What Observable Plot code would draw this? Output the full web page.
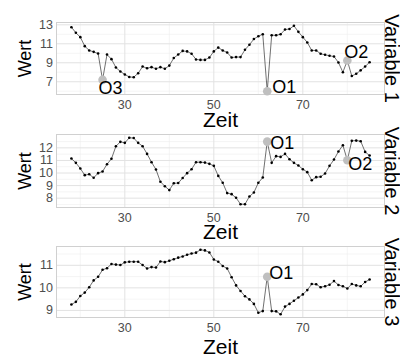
<!DOCTYPE html>
<html><head><meta charset="utf-8">
<script src="https://cdn.jsdelivr.net/npm/d3@7"></script>
<script src="https://cdn.jsdelivr.net/npm/@observablehq/plot@0.6"></script>
<style>
body{margin:0;background:#fff;}
#chart{position:relative;width:400px;height:354px;overflow:hidden;font-family:"Liberation Sans",Arial,sans-serif;background:#fff;}
#chart svg{position:absolute;left:0;overflow:visible;}
</style></head><body><div id="chart"></div>
<script>
const zeit = [18,19,20,21,22,23,24,25,26,27,28,29,30,31,32,33,34,35,36,37,38,39,40,41,42,43,44,45,46,47,48,49,50,51,52,53,54,55,56,57,58,59,60,61,62,63,64,65,66,67,68,69,70,71,72,73,74,75,76,77,78,79,80,81,82,83,84,85];
const variable1 = [12.75,12.16,11.7,10.75,10.3,10.15,9.97,7.2,9.87,9.38,8.5,8.08,7.77,7.5,7.48,7.9,8.6,8.43,8.54,8.37,8.54,8.37,8.7,9.5,9.87,10.25,10.2,9.95,9.35,9.3,9.3,9.55,10.2,10.6,10.3,10.08,9.55,9.6,9.6,10.37,10.9,11.5,11.8,12.0,6.0,11.9,11.9,12.0,12.5,12.56,12.9,12.26,11.7,11.14,10.3,10.3,9.95,9.84,9.74,9.66,9.03,8.0,9.24,7.6,7.84,8.2,8.6,9.06];
const variable2 = [11.15,10.81,10.36,9.83,9.9,9.62,9.99,10.12,10.7,11.13,12.13,12.48,12.4,12.8,12.78,12.4,12.13,11.52,10.86,10.28,9.3,8.95,8.64,9.19,9.2,9.6,9.99,10.3,10.86,10.86,10.83,10.73,10.57,9.77,9.22,8.4,8.32,8.03,7.52,7.52,8.13,8.45,9.22,9.64,12.5,10.81,11.34,11.28,11.52,11.1,10.81,10.6,10.3,10.07,9.43,9.67,9.7,9.96,10.57,11.07,11.71,12.21,11.02,12.56,12.58,12.53,11.68,11.39];
const variable3 = [9.26,9.38,9.64,9.79,10.03,10.33,10.49,10.8,10.87,11.06,11.03,11.01,11.13,11.16,11.16,11.16,11.01,10.86,10.92,10.9,11.17,11.14,11.2,11.27,11.34,11.39,11.47,11.52,11.56,11.69,11.66,11.57,11.26,11.16,10.97,10.86,10.47,10.11,9.86,9.63,9.49,9.29,8.9,8.97,10.49,8.97,8.96,8.83,9.17,9.29,9.43,9.57,9.71,9.9,10.17,10.16,10.03,10.07,10.14,10.3,10.13,10.07,9.97,10.17,10.11,10.07,10.26,10.37];
const variableNames = ["Variable 1","Variable 2","Variable 3"];
const xTicks = [30,50,70];
const yTicks1 = [7,9,11,13];
const yTicks2 = [8,9,10,11,12];
const yTicks3 = [9,10,11];
const outlierLabels1 = ["O1","O2","O3"], outlierZeit1 = [62,80,25];
const outlierLabels2 = ["O1","O2"], outlierZeit2 = [62,80];
const outlierLabels3 = ["O1"], outlierZeit3 = [62];
const xTitle = "Zeit", yTitle = "Wert";

const FONT = "'Liberation Sans', Arial, sans-serif";
function expand(vals){const [a,b]=d3.extent(vals);const p=(b-a)*0.05;return [a-p,b+p];}
function minor(ticks, dom){const s=ticks[1]-ticks[0];const out=[];for(let v=ticks[0]-s/2; v<=ticks[ticks.length-1]+s; v+=s){ if(v>=dom[0]&&v<=dom[1]) out.push(v);}return out;}

// label placement styles (offsets from the outlier point)
const labelStyle = {
  "0-O1": {textAnchor:"start", lineAnchor:"bottom", dx:5, dy:2},
  "0-O2": {textAnchor:"start", lineAnchor:"bottom", dx:-3, dy:-2},
  "0-O3": {textAnchor:"start", lineAnchor:"top", dx:-4, dy:1},
  "1-O1": {textAnchor:"start", lineAnchor:"middle", dx:3, dy:2},
  "1-O2": {textAnchor:"start", lineAnchor:"top", dx:1, dy:-3},
  "2-O1": {textAnchor:"start", lineAnchor:"middle", dx:2, dy:-4}
};
const layout = [
  {top:0, height:124, mt:22, mb:30, zdy:32},
  {top:124, height:116, mt:10, mb:33, zdy:31},
  {top:240, height:114, mt:6, mb:37, zdy:36}
];
const series = [variable1, variable2, variable3];
const yTicksAll = [yTicks1, yTicks2, yTicks3];
const outL = [outlierLabels1, outlierLabels2, outlierLabels3];
const outZ = [outlierZeit1, outlierZeit2, outlierZeit3];
const xDom = expand(zeit);
const xMinor = minor(xTicks, xDom);
const chart = document.getElementById("chart");

series.forEach((vals, i) => {
  const data = zeit.map((z, k) => ({zeit: z, wert: vals[k]}));
  const outliers = outL[i].map((lab, k) => ({label: lab, zeit: outZ[i][k], wert: vals[zeit.indexOf(outZ[i][k])]}));
  const yDom = expand(vals);
  const yT = yTicksAll[i];
  const L = layout[i];
  const labelMarks = outliers.map(o => Plot.text([o], {x:"zeit", y:"wert", text:"label", fontSize:18, fill:"#000", fontFamily:FONT, ...labelStyle[i+"-"+o.label]}));
  const svg = Plot.plot({
    width: 400, height: L.height,
    marginLeft: 56, marginRight: 16, marginTop: L.mt, marginBottom: L.mb,
    style: {background: "transparent", overflow: "visible", fontFamily: FONT},
    x: {domain: xDom},
    y: {domain: yDom},
    marks: [
      Plot.gridX(xMinor, {stroke:"#efefef", strokeOpacity:1, strokeWidth:0.6}),
      Plot.gridY(minor(yT, yDom), {stroke:"#efefef", strokeOpacity:1, strokeWidth:0.6}),
      Plot.gridX(xTicks, {stroke:"#e2e2e2", strokeOpacity:1, strokeWidth:1}),
      Plot.gridY(yT, {stroke:"#e2e2e2", strokeOpacity:1, strokeWidth:1}),
      Plot.frame({stroke:"#d0d0d0"}),
      Plot.axisX(xTicks, {tickSize:0, tickPadding:6, fontSize:12.5, color:"#4d4d4d", label:null}),
      Plot.axisY(yT, {tickSize:0, tickPadding:3.5, fontSize:12.5, color:"#4d4d4d", label:null}),
      Plot.line(data, {x:"zeit", y:"wert", stroke:"#333", strokeWidth:0.7}),
      Plot.dot(data, {x:"zeit", y:"wert", r:1.3, fill:"#000", stroke:null}),
      Plot.dot(outliers, {x:"zeit", y:"wert", r:4.3, fill:"#bfbfbf", stroke:null}),
      ...labelMarks,
      Plot.text([xTitle], {text:d=>d, frameAnchor:"bottom", lineAnchor:"bottom", dy:L.zdy, fontSize:21, fill:"#000"}),
      Plot.text([yTitle], {text:d=>d, frameAnchor:"left", rotate:-90, dx:-31.5, textAnchor:"middle", lineAnchor:"middle", fontSize:18, fill:"#000"}),
      Plot.text([variableNames[i]], {text:d=>d, frameAnchor:"right", rotate:90, dx:7, textAnchor:"middle", lineAnchor:"middle", fontSize:20, fill:"#000"})
    ]
  });
  svg.style.top = L.top + "px";
  chart.appendChild(svg);
});
</script></body></html>
